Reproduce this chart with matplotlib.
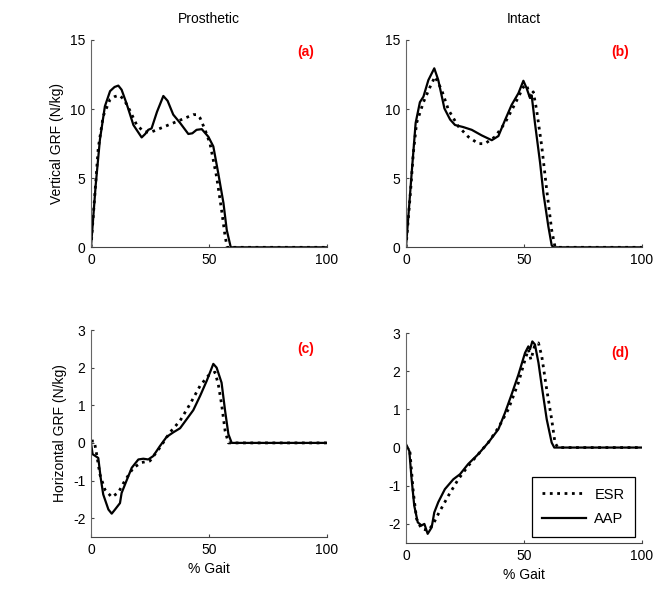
import matplotlib
matplotlib.use('Agg')
import numpy as np
import matplotlib.pyplot as plt

plt.rcParams['font.family'] = ['Liberation Sans', 'DejaVu Sans']
plt.rcParams['font.size'] = 10
plt.rcParams['axes.unicode_minus'] = False

# (a) vertical GRF, prosthetic side
a_aap_x = [0, 2, 3.8, 5.9, 8.1, 10, 11.6, 13, 15.1, 18, 21.5, 23, 24.3, 25.7, 28, 30.7, 32.5,
           34.9, 37.8, 41.3, 43, 44.8, 47, 49.8, 51.9, 54, 56.2, 57.6, 59.3, 70, 85, 100]
a_aap_y = [0, 4.5, 7.8, 10.2, 11.3, 11.6, 11.7, 11.4, 10.4, 8.85, 7.95, 8.2, 8.5, 8.6, 9.8, 10.95, 10.6,
           9.6, 9.0, 8.2, 8.25, 8.5, 8.55, 8.0, 7.3, 5.35, 3.2, 1.25, 0, 0, 0, 0]
a_esr_x = [0, 1.5, 3.1, 5.2, 8.1, 10, 12, 14, 16.5, 19.4, 22.2, 25, 30.7, 37.8, 43.4, 45, 46.3,
           48.4, 50.5, 53.3, 55.4, 56.9, 57.8, 70, 85, 100]
a_esr_y = [0, 3.5, 7.2, 9.5, 10.7, 10.9, 11.0, 10.7, 9.9, 8.85, 8.4, 8.3, 8.7, 9.2, 9.6, 9.6, 9.35,
           8.5, 7.5, 5.1, 2.7, 0.8, 0, 0, 0, 0]

# (b) vertical GRF, intact side
b_aap_x = [0, 2.4, 4.1, 5.9, 7.4, 9.5, 12, 13.7, 16.3, 18.7, 20.8, 24.3, 27.9, 32.1, 36.4, 39.2,
           42, 44.8, 47.7, 49.8, 51.2, 52.6, 53.3, 54.7, 56.9, 58.3, 60.4, 61.8, 62.5, 75, 100]
b_aap_y = [0, 5.35, 9.0, 10.5, 10.9, 12.1, 12.95, 12.1, 10.05, 9.25, 8.85, 8.7, 8.5, 8.1, 7.75, 8.05,
           9.2, 10.3, 11.15, 12.05, 11.5, 10.8, 11.0, 9.0, 6.1, 3.9, 1.5, 0.15, 0, 0, 0]
b_esr_x = [0, 2.0, 3.1, 4.5, 7.4, 10.2, 12.3, 15.1, 18, 22.2, 26.4, 30.7, 33.5, 37.8, 42, 46.3,
           49.8, 51.2, 52.6, 54, 55.4, 57.6, 59.7, 61.8, 63.2, 64, 75, 100]
b_esr_y = [0, 4.2, 6.8, 9.0, 10.5, 11.6, 12.35, 11.4, 9.95, 8.75, 8.0, 7.5, 7.5, 8.0, 9.0, 10.4,
           11.6, 11.75, 10.9, 11.25, 9.95, 7.3, 4.15, 1.25, 0.05, 0, 0, 0]

# (c) horizontal GRF, prosthetic side
c_aap_x = [0, 0.7, 2.4, 3.1, 4.1, 5.2, 7.4, 8.8, 10.2, 12.3, 13, 15.1, 17.3, 20.1, 22.2, 24.3, 26.4,
           29.3, 32.1, 34.9, 37.8, 40.6, 43.4, 46.3, 49.1, 51.9, 53.3, 55.4, 56.9, 58.3, 59.7, 75, 100]
c_aap_y = [0, -0.3, -0.37, -0.4, -0.92, -1.37, -1.77, -1.88, -1.77, -1.6, -1.33, -1.0, -0.66, -0.44,
           -0.42, -0.44, -0.35, -0.08, 0.16, 0.28, 0.39, 0.63, 0.87, 1.25, 1.65, 2.1, 2.0, 1.6, 0.85,
           0.23, 0, 0, 0]
c_esr_x = [0, 1.4, 2.4, 3.8, 5.9, 8.8, 11.6, 14.4, 18, 21.5, 25, 29.3, 33.5, 37.8, 42, 46.3,
           49.8, 52.6, 54, 55.4, 56.9, 58.3, 75, 100]
c_esr_y = [0.05, 0.05, -0.3, -0.84, -1.24, -1.44, -1.32, -1.0, -0.66, -0.52, -0.48, -0.12, 0.28,
           0.59, 1.03, 1.52, 1.79, 1.88, 1.56, 1.03, 0.32, 0, 0, 0]

# (d) horizontal GRF, intact side
d_aap_x = [0, 1.4, 2.4, 3.5, 5.0, 6.6, 7.8, 9.2, 10.9, 12, 13.7, 16.5, 20.1, 22.9, 26.4, 30.7,
           34.9, 39.2, 42, 44.8, 47.7, 50.5, 51.9, 52.6, 53.6, 54.7, 56.2, 57.6, 59.7, 61.8, 62.9, 75, 100]
d_aap_y = [0.09, -0.09, -0.83, -1.52, -1.96, -2.04, -2.0, -2.26, -2.09, -1.7, -1.43, -1.09, -0.83,
           -0.7, -0.43, -0.17, 0.13, 0.48, 0.91, 1.39, 1.91, 2.48, 2.65, 2.57, 2.78, 2.7, 2.22, 1.61,
           0.74, 0.13, 0, 0, 0]
d_esr_x = [0, 1.7, 3.1, 4.5, 6.6, 9.5, 11.6, 13.7, 18, 22.2, 26.4, 30.7, 34.9, 39.2, 43.4, 47.7,
           50.5, 51.9, 53, 54.5, 56.2, 57.6, 59.7, 61.8, 63.2, 64.4, 75, 100]
d_esr_y = [0.05, -0.13, -1.17, -1.87, -2.13, -2.17, -2.0, -1.74, -1.26, -0.83, -0.48, -0.17, 0.13,
           0.52, 1.0, 1.7, 2.3, 2.57, 2.3, 2.65, 2.74, 2.39, 1.52, 0.74, 0.13, 0, 0, 0]

panels = [
    ('(a)', a_esr_x, a_esr_y, a_aap_x, a_aap_y, [0.1368, 0.5801, 0.3545, 0.352], (0, 15), [0, 5, 10, 15]),
    ('(b)', b_esr_x, b_esr_y, b_aap_x, b_aap_y, [0.6105, 0.5801, 0.3545, 0.352], (0, 15), [0, 5, 10, 15]),
    ('(c)', c_esr_x, c_esr_y, c_aap_x, c_aap_y, [0.1368, 0.0883, 0.3545, 0.3514], (-2.5, 3), [-2, -1, 0, 1, 2, 3]),
    ('(d)', d_esr_x, d_esr_y, d_aap_x, d_aap_y, [0.6105, 0.0781, 0.3545, 0.3565], (-2.5, 3), [-2, -1, 0, 1, 2, 3]),
]

fig = plt.figure(figsize=(6.65, 5.89), dpi=100)
axes = []
for tag, ex, ey, ax_x, ax_y, pos, ylim, yt in panels:
    ax = fig.add_axes(pos)
    ax.plot(ex, ey, 'k:', lw=2, label='ESR')
    ax.plot(ax_x, ax_y, 'k-', lw=1.6, label='AAP')
    ax.set_xlim(0, 100)
    ax.set_ylim(*ylim)
    ax.set_xticks([0, 50, 100])
    ax.set_yticks(yt)
    ax.spines['top'].set_visible(False)
    ax.spines['right'].set_visible(False)
    ax.spines['left'].set_color('#666666')
    ax.spines['bottom'].set_color('#444444')
    ax.tick_params(direction='in', length=2.5, color='#444444', labelsize=10, pad=4)
    ax.text(0.91, 0.975 if ylim[1] == 15 else 0.94, tag, transform=ax.transAxes,
            color='red', fontweight='bold', ha='center', va='top', fontsize=10)
    axes.append(ax)

axes[0].set_title('Prosthetic', fontsize=10, pad=12)
axes[1].set_title('Intact', fontsize=10, pad=12)
axes[0].set_ylabel('Vertical GRF (N/kg)')
axes[2].set_ylabel('Horizontal GRF (N/kg)')
axes[2].set_xlabel('% Gait')
axes[3].set_xlabel('% Gait')

leg = axes[3].legend(loc='lower right', bbox_to_anchor=(0.97, 0.03), fancybox=False,
                     edgecolor='black', framealpha=1, handlelength=3.0, handletextpad=0.6,
                     borderpad=0.7, labelspacing=0.75, borderaxespad=0, fontsize=10.5)
leg.get_frame().set_linewidth(0.9)

plt.savefig('out.png', dpi=100)
plt.close()
